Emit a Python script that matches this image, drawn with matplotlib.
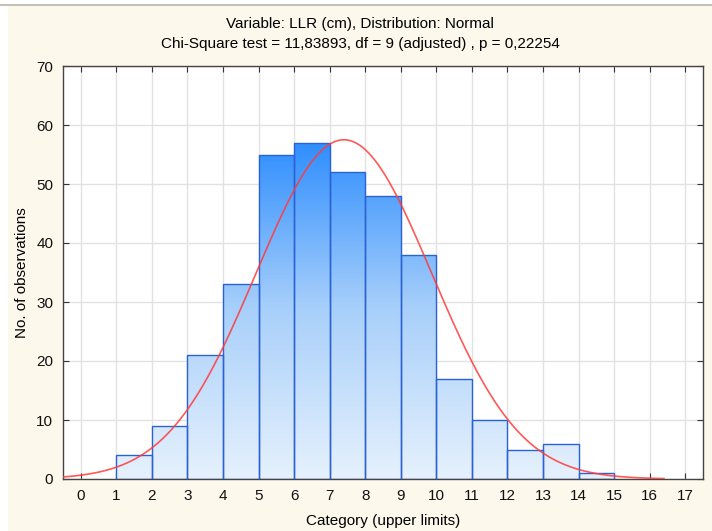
import numpy as np
import matplotlib
matplotlib.use("Agg")
import matplotlib.pyplot as plt
from matplotlib.colors import LinearSegmentedColormap
from matplotlib.patches import Rectangle
from matplotlib.lines import Line2D

plt.rcParams['font.family'] = ['Liberation Sans', 'DejaVu Sans']

# histogram data (category upper limits)
bin_left = [1, 2, 3, 4, 5, 6, 7, 8, 9, 10, 11, 12, 13, 14]
counts = [4, 9, 21, 33, 55, 57, 52, 48, 38, 17, 10, 5, 6, 1]

# fitted normal distribution
mean = 7.4
sd = 2.47
n_obs = sum(counts)

x_ticks = list(range(0, 18))
y_ticks = list(range(0, 71, 10))

fig = plt.figure(figsize=(7.12, 5.31), dpi=100, facecolor='white')
fig.patches.append(Rectangle((8 / 712, 0), 1, 1 - 6 / 531, transform=fig.transFigure,
                             facecolor='#fdf8ec', edgecolor='none', zorder=-10))
fig.lines.append(Line2D([0, 1], [1 - 5 / 531, 1 - 5 / 531], transform=fig.transFigure,
                        color='#b8b4aa', lw=1.2))

ax = fig.add_axes([63 / 712, 1 - 479 / 531, 640 / 712, 413 / 531])
ax.set_facecolor('white')

cmap = LinearSegmentedColormap.from_list('blu', ['#e6f1fd', '#a9d0fa', '#2f8eff'])
grad = np.linspace(0, 1, 256).reshape(-1, 1)

bars = ax.bar(bin_left, counts, width=1, align='edge', facecolor='none',
              edgecolor='#2a62d6', linewidth=1.0, zorder=3)
for b in bars:
    im = ax.imshow(grad, cmap=cmap, origin='lower', aspect='auto',
                   extent=[-0.5, 17.5, 0, 57], zorder=2, interpolation='bilinear')
    im.set_clip_path(b)

xs = np.linspace(-0.5, 16.4, 400)
ys = n_obs / (sd * np.sqrt(2 * np.pi)) * np.exp(-0.5 * ((xs - mean) / sd) ** 2)
ax.plot(xs, ys, color='#ff3b3b', lw=1.2, alpha=0.85, zorder=4)

ax.set_xlim(-0.5, 17.5)
ax.set_ylim(0, 70)
ax.set_xticks(x_ticks)
ax.set_yticks(y_ticks)
ax.grid(True, color='#e2e2e2', lw=1.0, zorder=0)
ax.set_axisbelow(True)
ax.tick_params(direction='in', top=True, right=True, length=4, width=0.8,
               labelsize=11, colors='#333333', labelcolor='#111111', pad=7)
for s in ax.spines.values():
    s.set_color('#444444')
    s.set_linewidth(1.0)

ax.set_xlabel('Category (upper limits)', fontsize=11, labelpad=8)
ax.set_ylabel('No. of observations', fontsize=11, labelpad=5)
fig.text(360 / 712, 1 - 24 / 531, 'Variable: LLR (cm), Distribution: Normal',
         ha='center', va='center', fontsize=11)
fig.text(360 / 712, 1 - 44 / 531, 'Chi-Square test = 11,83893, df = 9 (adjusted) , p = 0,22254',
         ha='center', va='center', fontsize=11)

fig.savefig('out.png', dpi=100)
